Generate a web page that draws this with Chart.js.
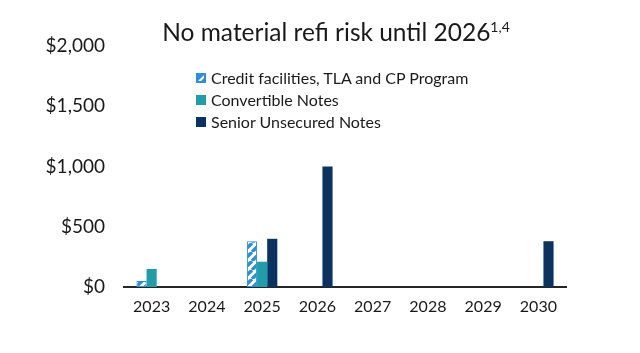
<!DOCTYPE html>
<html>
<head>
<meta charset="utf-8">
<script src="https://cdn.jsdelivr.net/npm/chart.js@4/dist/chart.umd.min.js"></script>
<style>
  html, body { margin: 0; padding: 0; background: #fff; }
  #wrap { position: relative; width: 640px; height: 353px; font-family: Lato, "Open Sans", sans-serif; color: #1a1a1a; }
  #c { position: absolute; left: 0; top: 0; }
  #title { position: absolute; left: 0; width: 672px; top: 17px; text-align: center; font-size: 24.5px; white-space: nowrap; }
  #title sup { font-size: 14px; vertical-align: 9px; line-height: 0; }
  #legend { position: absolute; left: 196px; top: 67px; font-size: 16px; line-height: 22px; }
  #legend .row { display: flex; align-items: center; white-space: nowrap; }
  #legend canvas { margin-right: 5px; }
</style>
</head>
<body>
<div id="wrap">
  <canvas id="c" width="640" height="353"></canvas>
  <div id="title">No material refi risk until 2026<sup>1,4</sup></div>
  <div id="legend"></div>
</div>
<script>
const years = ['2023', '2024', '2025', '2026', '2027', '2028', '2029', '2030'];
const creditFacilities = [50, null, 380, null, null, null, null, null];
const convertibleNotes = [150, null, 210, null, null, null, null, null];
const seniorNotes = [null, null, 400, 1000, null, null, null, 380];
const yTicks = [0, 500, 1000, 1500, 2000];
const seriesLabels = ['Credit facilities, TLA and CP Program', 'Convertible Notes', 'Senior Unsecured Notes'];

const HATCH = '#2E8FD8';
const TEAL = '#1F9DA8';
const NAVY = '#0A3361';

function makeHatch(ctx) {
  const p = document.createElement('canvas');
  p.width = 9; p.height = 9;
  const g = p.getContext('2d');
  g.fillStyle = '#fff';
  g.fillRect(0, 0, 9, 9);
  g.strokeStyle = HATCH;
  g.lineWidth = 3.4;
  g.beginPath();
  for (let k = -9; k <= 18; k += 9) {
    g.moveTo(k, 9); g.lineTo(k + 9, 0);
  }
  g.stroke();
  return ctx.createPattern(p, 'repeat');
}

const ctx = document.getElementById('c').getContext('2d');
const hatch = makeHatch(ctx);

const chart = new Chart(ctx, {
  type: 'bar',
  data: {
    labels: years,
    datasets: [
      { label: seriesLabels[0], data: creditFacilities, backgroundColor: hatch, borderColor: HATCH, borderWidth: 1, borderDash: [3, 2], borderSkipped: false },
      { label: seriesLabels[1], data: convertibleNotes, backgroundColor: TEAL, borderWidth: 0 },
      { label: seriesLabels[2], data: seniorNotes, backgroundColor: NAVY, borderWidth: 0 }
    ]
  },
  options: {
    responsive: false,
    animation: false,
    devicePixelRatio: 1,
    layout: { padding: { top: 46, right: 74, bottom: 0, left: 0 } },
    datasets: { bar: { categoryPercentage: 0.55, barPercentage: 1 } },
    plugins: { legend: { display: false }, title: { display: false }, tooltip: { enabled: false } },
    scales: {
      x: {
        grid: { display: false, drawTicks: false },
        border: { display: true, color: '#262626', width: 2 },
        ticks: { color: '#1a1a1a', font: { family: 'Lato', size: 16 }, padding: 10 },
        afterFit: s => { s.height = 66; }
      },
      y: {
        min: 0, max: 2000,
        afterBuildTicks: s => { s.ticks = yTicks.map(v => ({ value: v })); },
        grid: { display: false, drawTicks: false },
        border: { display: false },
        ticks: { color: '#1a1a1a', font: { family: 'Lato', size: 19 }, padding: 19,
          callback: v => '$' + Number(v).toLocaleString('en-US') },
        afterFit: s => { s.width = 124; }
      }
    }
  }
});

// HTML legend built from datasets
const leg = document.getElementById('legend');
chart.data.datasets.forEach((ds, i) => {
  const row = document.createElement('div');
  row.className = 'row';
  const box = document.createElement('canvas');
  box.width = 10; box.height = 10;
  const b = box.getContext('2d');
  if (i === 0) {
    b.fillStyle = HATCH; b.fillRect(0, 0, 10, 10);
    b.fillStyle = '#fff';
    b.beginPath(); b.moveTo(2, 8); b.lineTo(8, 2); b.lineTo(8, 5); b.lineTo(5, 8); b.closePath(); b.fill();
  } else {
    b.fillStyle = ds.backgroundColor; b.fillRect(0, 0, 10, 10);
  }
  row.appendChild(box);
  const t = document.createElement('span');
  t.textContent = ds.label;
  row.appendChild(t);
  leg.appendChild(row);
});
</script>
</body>
</html>
